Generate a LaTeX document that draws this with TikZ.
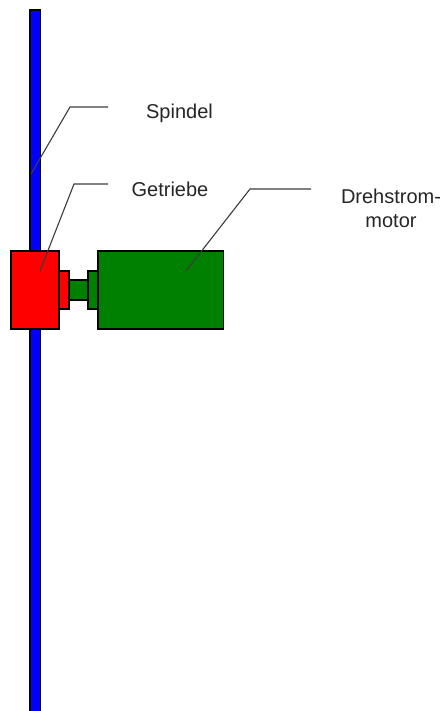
\documentclass[tikz,border=0pt]{standalone}
\usepackage{fontspec}
\setmainfont{Liberation Sans}
\definecolor{mgreen}{RGB}{0,128,0}
\definecolor{leader}{RGB}{60,60,60}
\tikzset{
  part/.style={draw=black,line width=1.2pt,inner sep=0pt,outer sep=0pt,minimum width=#1},
  lead/.style={draw=leader,line width=1.1pt},
  lab/.style={font=\fontsize{20}{24}\selectfont,text=black!85,inner sep=0pt,align=center,anchor=center}
}
\begin{document}
\begin{tikzpicture}[x=1pt,y=-1pt]
\useasboundingbox (0,0) rectangle (443,711);
\fill[white] (0,0) rectangle (443,711);
% spindle
\node[part=10.5pt,fill=blue,minimum height=702pt,anchor=north west] (spindel) at (30,10) {};
% gearbox
\node[part=48pt,fill=red,minimum height=78pt,anchor=north west] (getriebe) at (11,251) {};
\node[part=10pt,fill=red,minimum height=38pt,anchor=north west] (abgang) at (59,271) {};
% shaft and motor
\node[part=19pt,fill=mgreen,minimum height=20pt,anchor=north west] (welle) at (69,280) {};
\node[part=10pt,fill=mgreen,minimum height=38pt,anchor=north west] (flansch) at (88,271) {};
\node[part=125.5pt,fill=mgreen,minimum height=78pt,anchor=north west] (motor) at (98,251) {};
% labels
\node[lab] (tspindel) at (179.5,113) {Spindel};
\node[lab] (tgetriebe) at (170,189.5) {Getriebe};
\node[lab,text width=120pt] (tmotor) at (391,208) {Drehstrom-\\motor};
% leader ends
\coordinate (a0) at (108,107);
\coordinate (a1) at (70,107);
\coordinate (a2) at (31,174);
\coordinate (b0) at (108,184);
\coordinate (b1) at (74,184);
\coordinate (b2) at (40,271);
\coordinate (c0) at (311,189);
\coordinate (c1) at (250,189);
\coordinate (c2) at (186,271);
\draw[lead] (a0) -- (a1) -- (a2);
\draw[lead] (b0) -- (b1) -- (b2);
\draw[lead] (c0) -- (c1) -- (c2);
\end{tikzpicture}
\end{document}
